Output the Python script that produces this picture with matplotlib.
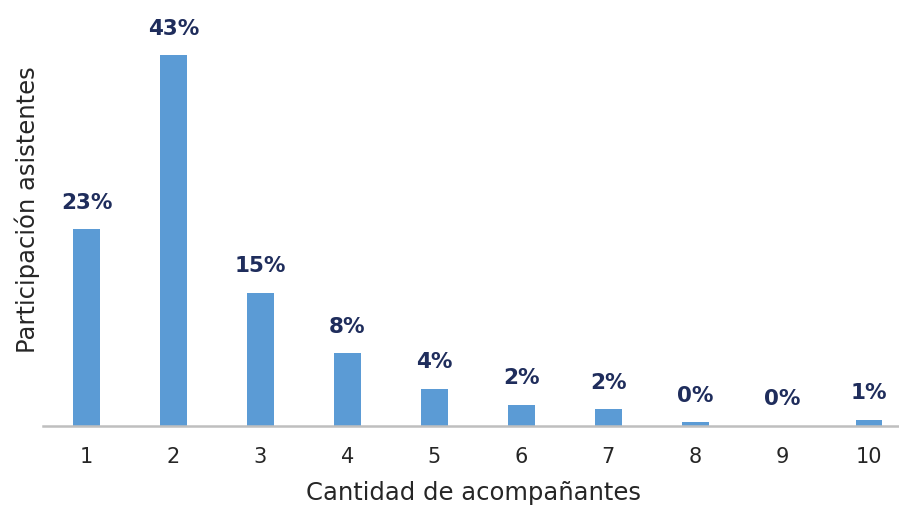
import matplotlib
matplotlib.use("Agg")
import matplotlib.pyplot as plt

categories = ["1", "2", "3", "4", "5", "6", "7", "8", "9", "10"]
values = [22.8, 43.0, 15.4, 8.4, 4.3, 2.4, 1.9, 0.4, 0.0, 0.7]
labels = ["23%", "43%", "15%", "8%", "4%", "2%", "2%", "0%", "0%", "1%"]

bar_color = "#5B9BD5"
label_color = "#1F2D5C"
text_color = "#262626"

fig = plt.figure(figsize=(8.99, 5.08), dpi=100)
ax = fig.add_axes([0.048, 0.162, 0.967, 0.814])

x = list(range(len(categories)))
ax.bar(x, values, width=0.31, color=bar_color, zorder=2)
for xi, v, lab in zip(x, values, labels):
    ax.annotate(lab, (xi, v), xytext=(0, 12), textcoords="offset points",
                ha="center", va="bottom", fontsize=15.5, fontweight="bold",
                color=label_color)

ax.set_xlim(-0.5, 9.5)
ax.set_ylim(0, 48)
ax.set_xticks(x)
ax.set_xticklabels(categories, fontsize=15, color=text_color)
ax.set_yticks([])
for s in ["top", "right", "left"]:
    ax.spines[s].set_visible(False)
ax.spines["bottom"].set_color("#BFBFBF")
ax.spines["bottom"].set_linewidth(1.8)
ax.tick_params(axis="x", length=0, pad=15)

fig.text(473 / 899, 1 - 493 / 508, "Cantidad de acompañantes", ha="center", va="center",
         fontsize=17.5, color=text_color)
fig.text(27 / 899, 1 - 210 / 508, "Participación asistentes", ha="center", va="center",
         rotation=90, fontsize=17.5, color=text_color)

fig.savefig("out.png", dpi=100)
